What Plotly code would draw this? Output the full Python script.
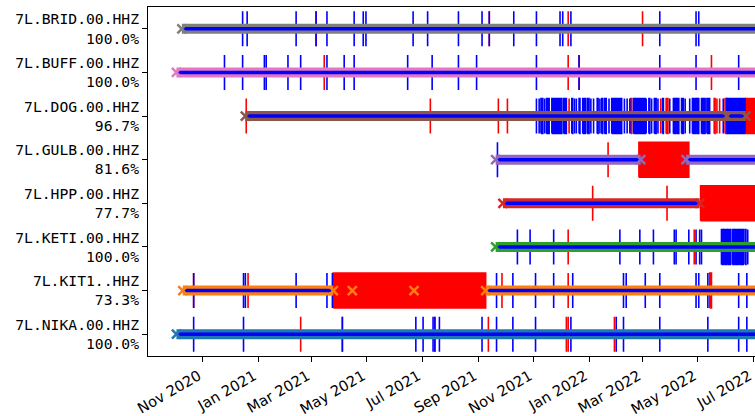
import plotly.graph_objects as go

# ---------------- data ----------------
stations = ["7L.BRID.00.HHZ", "7L.BUFF.00.HHZ", "7L.DOG.00.HHZ", "7L.GULB.00.HHZ",
            "7L.HPP.00.HHZ", "7L.KETI.00.HHZ", "7L.KIT1..HHZ", "7L.NIKA.00.HHZ"]
percent = ["100.0%", "100.0%", "96.7%", "81.6%", "77.7%", "100.0%", "73.3%", "100.0%"]
band_colors = ["#7f7f7f", "#e377c2", "#8c564b", "#9467bd",
               "#d62728", "#2ca02c", "#ff7f0e", "#1f77b4"]

x_tick_vals = ["2020-11-01", "2021-01-01", "2021-03-01", "2021-05-01", "2021-07-01",
               "2021-09-01", "2021-11-01", "2022-01-01", "2022-03-01", "2022-05-01",
               "2022-07-01"]
x_tick_text = ["Nov 2020", "Jan 2021", "Mar 2021", "May 2021", "Jul 2021", "Sep 2021",
               "Nov 2021", "Jan 2022", "Mar 2022", "May 2022", "Jul 2022"]
x_range = ["2020-09-01 16:00", "2022-07-03 00:00"]

# continuous data segments (start, end)
data_segments = {
    "7L.BRID.00.HHZ": [("2020-10-09", "2022-07-20")],
    "7L.BUFF.00.HHZ": [("2020-10-03", "2022-07-20")],
    "7L.DOG.00.HHZ": [("2020-12-18", "2022-06-23")],
    "7L.GULB.00.HHZ": [("2021-09-20", "2022-02-27"), ("2022-04-18", "2022-07-20")],
    "7L.HPP.00.HHZ": [("2021-09-28", "2022-05-03")],
    "7L.KETI.00.HHZ": [("2021-09-20", "2022-07-20")],
    "7L.KIT1..HHZ": [("2020-10-10", "2021-03-25"), ("2021-09-09", "2022-07-20")],
    "7L.NIKA.00.HHZ": [("2020-10-03", "2022-07-20")],
}
# isolated file starts (x markers) inside gaps
extra_file_starts = {
    "7L.DOG.00.HHZ": ["2022-06-02"],
    "7L.KIT1..HHZ": ["2021-04-15", "2021-06-22"],
}

# gaps (red); single date = short gap, tuple = longer gap
gaps = {
    "7L.BRID.00.HHZ": ["2021-03-06", "2021-09-13", "2021-12-09", "2022-03-01"],
    "7L.BUFF.00.HHZ": ["2021-03-15", "2021-12-09", "2021-12-21", "2022-05-16"],
    "7L.DOG.00.HHZ": ["2020-12-19", "2021-07-10", "2021-09-23", "2021-10-03", "2021-12-10",
                      ("2022-02-16", "2022-02-17"), "2022-03-21", ("2022-03-27", "2022-03-29"),
                      ("2022-05-19", "2022-05-20"), "2022-05-22", "2022-05-25",
                      ("2022-05-31", "2022-06-02"), ("2022-06-23", "2022-07-20")],
    "7L.GULB.00.HHZ": ["2022-01-22", ("2022-02-25", "2022-04-21")],
    "7L.HPP.00.HHZ": ["2022-01-05", "2022-03-28", ("2022-05-04", "2022-07-20")],
    "7L.KETI.00.HHZ": ["2021-12-09", "2022-04-27"],
    "7L.KIT1..HHZ": ["2020-10-22", "2020-12-21", ("2021-03-25", "2021-09-09"), "2021-09-27",
                     "2021-12-09", ("2022-05-14", "2022-05-16")],
    "7L.NIKA.00.HHZ": ["2021-02-17", "2021-04-04", "2021-07-15", "2021-09-12", "2021-12-07",
                       "2021-12-09", "2022-01-29"],
}

# overlaps (blue)
overlaps = {
    "7L.BRID.00.HHZ": ["2020-12-15", "2020-12-20", "2021-02-12", "2021-03-06", "2021-03-18",
                       "2021-04-17", "2021-04-27", "2021-04-30", "2021-06-21", "2021-07-07",
                       "2021-08-10", "2021-09-05", "2021-09-13", "2021-10-10", "2021-11-04",
                       "2021-11-30", "2021-12-03", "2021-12-12", "2022-03-20", "2022-04-29",
                       "2022-05-02"],
    "7L.BUFF.00.HHZ": ["2020-11-25", "2020-12-15", "2021-01-08", "2021-01-10", "2021-02-03",
                       "2021-02-17", "2021-03-18", "2021-04-06", "2021-04-17", "2021-06-15",
                       "2021-07-12", "2021-08-10", "2021-08-30", "2021-11-04", "2021-12-21",
                       "2022-03-20", "2022-04-29", "2022-06-15"],
    "7L.DOG.00.HHZ": ["2021-11-04", "2021-11-07", ("2021-11-09", "2021-11-11"), "2021-11-13",
                      ("2021-11-15", "2021-11-18"), ("2021-11-21", "2021-12-02"),
                      ("2021-12-04", "2021-12-07"), ("2021-12-13", "2021-12-14"), "2021-12-16",
                      "2021-12-18", ("2021-12-21", "2021-12-22"), ("2021-12-25", "2021-12-28"),
                      ("2021-12-30", "2022-01-01"), "2022-01-03", "2022-01-06",
                      ("2022-01-10", "2022-01-11"), "2022-01-13", ("2022-01-15", "2022-01-16"),
                      ("2022-01-18", "2022-01-20"), "2022-01-23", ("2022-01-26", "2022-02-06"),
                      "2022-02-09", "2022-02-12", "2022-02-15", ("2022-02-19", "2022-03-04"),
                      "2022-03-05", ("2022-03-08", "2022-03-09"), "2022-03-11",
                      ("2022-03-14", "2022-03-16"), "2022-03-18", ("2022-03-23", "2022-03-24"),
                      "2022-03-31", ("2022-04-04", "2022-04-07"), ("2022-04-08", "2022-04-10"),
                      ("2022-04-13", "2022-04-15"), "2022-04-17", "2022-04-22",
                      ("2022-04-25", "2022-04-29"), ("2022-04-30", "2022-05-02"),
                      ("2022-05-05", "2022-05-09"), ("2022-05-11", "2022-05-14"), "2022-05-29",
                      ("2022-06-02", "2022-06-22")],
    "7L.GULB.00.HHZ": ["2021-09-22"],
    "7L.HPP.00.HHZ": [],
    "7L.KETI.00.HHZ": ["2021-10-14", "2021-10-28", "2021-11-23", "2022-02-04", "2022-02-26",
                       "2022-03-13", "2022-04-05", "2022-04-07", "2022-04-21", "2022-04-29",
                       "2022-05-03", "2022-05-05", ("2022-05-27", "2022-05-29"),
                       ("2022-05-30", "2022-06-02"), ("2022-06-03", "2022-06-06"),
                       ("2022-06-08", "2022-06-10"), ("2022-06-11", "2022-06-15"),
                       ("2022-06-16", "2022-06-20"), ("2022-06-22", "2022-06-23"),
                       "2022-06-25"],
    "7L.KIT1..HHZ": ["2020-10-22", "2020-12-16", "2020-12-18", "2021-02-12", "2021-03-18",
                     "2021-03-24", "2021-09-21", "2021-10-09", "2021-11-03", "2021-11-23",
                     "2021-12-14", "2022-02-08", "2022-02-11", "2022-03-04", "2022-03-20",
                     "2022-04-29", "2022-05-02", "2022-05-12", "2022-06-15", "2022-06-24"],
    "7L.NIKA.00.HHZ": ["2020-10-22", "2020-12-16", "2021-04-04", "2021-06-24", "2021-07-02",
                       "2021-07-13", "2021-07-15", "2021-07-20", "2021-09-05", "2021-09-21",
                       "2021-10-09", "2021-11-03", "2021-12-12", "2022-01-31", "2022-02-08",
                       "2022-03-20", "2022-05-12", "2022-06-15", "2022-06-24"],
}

# ---------------- figure ----------------
n = len(stations)
ypos = {st: n - 1 - i for i, st in enumerate(stations)}
HALF = 0.4


def span_trace(spans_by_station, color):
    xs, ys = [], []
    for st, spans in spans_by_station.items():
        y = ypos[st]
        for sp in spans:
            s, e = (sp, sp) if isinstance(sp, str) else sp
            xs += [s, e, e, s, s, None]
            ys += [y - HALF, y - HALF, y + HALF, y + HALF, y - HALF, None]
    return go.Scatter(x=xs, y=ys, mode="lines", fill="toself", fillcolor=color,
                      line=dict(color=color, width=1.6), hoverinfo="skip", showlegend=False)


fig = go.Figure()
fig.add_trace(span_trace(gaps, "#ff0000"))
fig.add_trace(span_trace(overlaps, "#0000ff"))

# coloured coverage bands
for st, col in zip(stations, band_colors):
    xs, ys = [], []
    for s, e in data_segments[st]:
        xs += [s, e, None]
        ys += [ypos[st], ypos[st], None]
    fig.add_trace(go.Scatter(x=xs, y=ys, mode="lines", line=dict(color=col, width=10),
                             hoverinfo="skip", showlegend=False))

# blue data line
bx, by = [], []
for st in stations:
    for s, e in data_segments[st]:
        bx += [s, e, None]
        by += [ypos[st], ypos[st], None]
fig.add_trace(go.Scatter(x=bx, y=by, mode="lines", line=dict(color="#0000ff", width=3.5),
                         hoverinfo="skip", showlegend=False))

# file start / end markers
for st, col in zip(stations, band_colors):
    mx = []
    for s, e in data_segments[st]:
        mx += [s, e]
    mx += extra_file_starts.get(st, [])
    fig.add_trace(go.Scatter(x=mx, y=[ypos[st]] * len(mx), mode="markers",
                             marker=dict(symbol="x-thin", size=9, color=col,
                                         line=dict(color=col, width=2.5)),
                             hoverinfo="skip", showlegend=False))

fig.update_layout(
    template="none",
    width=755, height=416,
    margin=dict(l=148, r=0, t=7, b=60),
    paper_bgcolor="white", plot_bgcolor="white",
    showlegend=False,
    xaxis=dict(type="date", range=x_range, tickvals=x_tick_vals, ticktext=x_tick_text,
               tickangle=-30, ticks="outside", ticklen=5, tickcolor="black",
               ticklabelstandoff=0, ticklabelshift=-4, ticklabeloverflow="allow",
               showline=True, mirror=True, linecolor="black", linewidth=1,
               showgrid=False, zeroline=False, automargin=False,
               tickfont=dict(family="DejaVu Sans", size=14.7, color="black")),
    yaxis=dict(range=[-0.5, n - 0.5], tickvals=[ypos[s] for s in stations],
               ticktext=[f"{s}<br>{p}" for s, p in zip(stations, percent)],
               ticks="outside", ticklen=5, tickcolor="black",
               showline=True, mirror=False, linecolor="black", linewidth=1,
               showgrid=False, zeroline=False, automargin=False,
               tickfont=dict(family="DejaVu Sans Mono", size=14.7, color="black")),
)

fig.write_html("out.html", config={"displayModeBar": False},
               post_script="document.body.style.margin='0';document.body.style.overflow='hidden';")
